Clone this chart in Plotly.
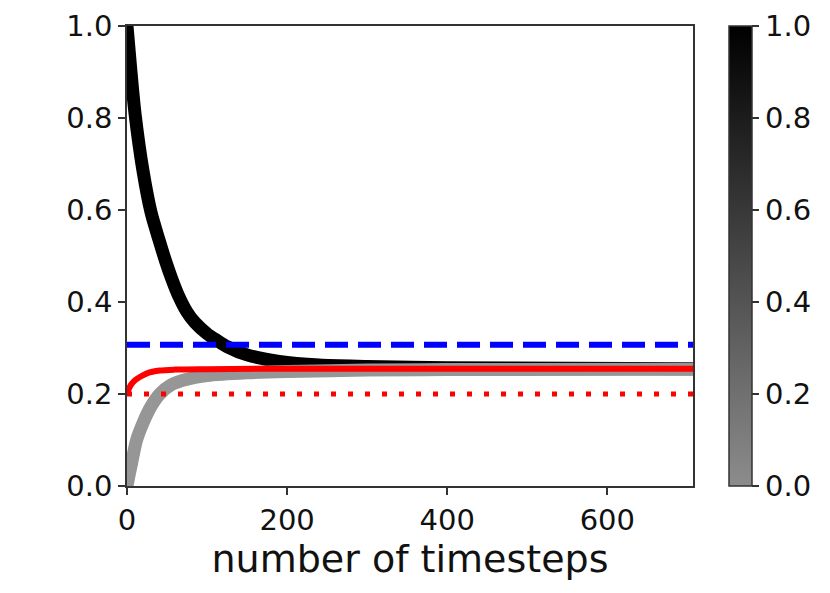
import plotly.graph_objects as go

# ---- data ----
black_t = [0, 5, 10, 20, 30, 40, 48, 56, 64, 75, 85, 100, 112, 125, 150, 190, 240, 300, 400, 550, 707]
black_y = [1.0, 0.90, 0.81, 0.685, 0.595, 0.535, 0.49, 0.45, 0.415, 0.378, 0.355, 0.331,
           0.317, 0.303, 0.285, 0.271, 0.263, 0.260, 0.257, 0.256, 0.255]

gray_t = [0, 3, 6, 12, 20, 30, 41, 55, 75, 100, 150, 200, 300, 400, 707]
gray_y = [0.0, 0.027, 0.052, 0.10, 0.137, 0.173, 0.20, 0.220, 0.232, 0.240, 0.246,
          0.249, 0.252, 0.253, 0.254]

red_t = [0, 2, 5, 10, 16, 25, 41, 60, 100, 200, 707]
red_y = [0.2, 0.21, 0.22, 0.23, 0.237, 0.245, 0.251, 0.253, 0.254, 0.255, 0.255]

blue_level = 0.307
red_level = 0.2
x_max = 707

x_ticks = [0, 200, 400, 600]
y_ticks = [0.0, 0.2, 0.4, 0.6, 0.8, 1.0]
cbar_ticks = [0.0, 0.2, 0.4, 0.6, 0.8, 1.0]

gray_col = "rgb(150,150,150)"
cbar_scale = [[0, "rgb(140,140,140)"], [1, "rgb(0,0,0)"]]

fig = go.Figure()
fig.add_trace(go.Scatter(x=black_t, y=black_y, mode="lines",
                         line=dict(color="black", width=13, shape="spline", smoothing=0.8),
                         showlegend=False))
fig.add_trace(go.Scatter(x=gray_t, y=gray_y, mode="lines",
                         line=dict(color=gray_col, width=13, shape="spline", smoothing=0.8),
                         showlegend=False))
fig.add_trace(go.Scatter(x=red_t, y=red_y, mode="lines",
                         line=dict(color="red", width=6, shape="spline", smoothing=0.8),
                         showlegend=False))
fig.add_trace(go.Scatter(x=[0, x_max], y=[red_level, red_level], mode="lines",
                         line=dict(color="red", width=5, dash="5px,12px"), showlegend=False))
fig.add_trace(go.Scatter(x=[0, x_max], y=[blue_level, blue_level], mode="lines",
                         line=dict(color="blue", width=6, dash="23px,10px"), showlegend=False))
# colorbar
fig.add_trace(go.Scatter(x=[None], y=[None], mode="markers", showlegend=False,
                         marker=dict(color=[0], cmin=0, cmax=1, colorscale=cbar_scale,
                                     showscale=True,
                                     colorbar=dict(thickness=23, len=460, lenmode="pixels",
                                                   y=0.5, yanchor="middle",
                                                   x=(729 - 127) / 566, xanchor="left", xpad=0,
                                                   ypad=0,
                                                   outlinewidth=1.5, outlinecolor="#333",
                                                   ticks="outside", ticklen=7, tickwidth=1.5,
                                                   tickcolor="#333",
                                                   tickvals=cbar_ticks, tickformat=".1f",
                                                   tickfont=dict(size=29, color="#111")))))

axis_common = dict(showline=True, mirror=True, linecolor="#333", linewidth=1.5,
                   ticks="outside", ticklen=7, tickwidth=1.5, tickcolor="#333",
                   showgrid=False, zeroline=False, automargin=False,
                   tickfont=dict(size=29, color="#111"))
fig.update_xaxes(range=[0, x_max], tickvals=x_ticks, **axis_common,
                 title=dict(text="number of timesteps", font=dict(size=38, color="#111"),
                            standoff=4))
fig.update_yaxes(range=[0, 1], tickvals=y_ticks, tickformat=".1f", **axis_common)

fig.update_layout(width=830, height=593,
                  margin=dict(l=119, r=145, t=18, b=115, autoexpand=False),
                  paper_bgcolor="white", plot_bgcolor="white",
                  font=dict(family="DejaVu Sans", color="#111"))

fig.write_html("out.html")
